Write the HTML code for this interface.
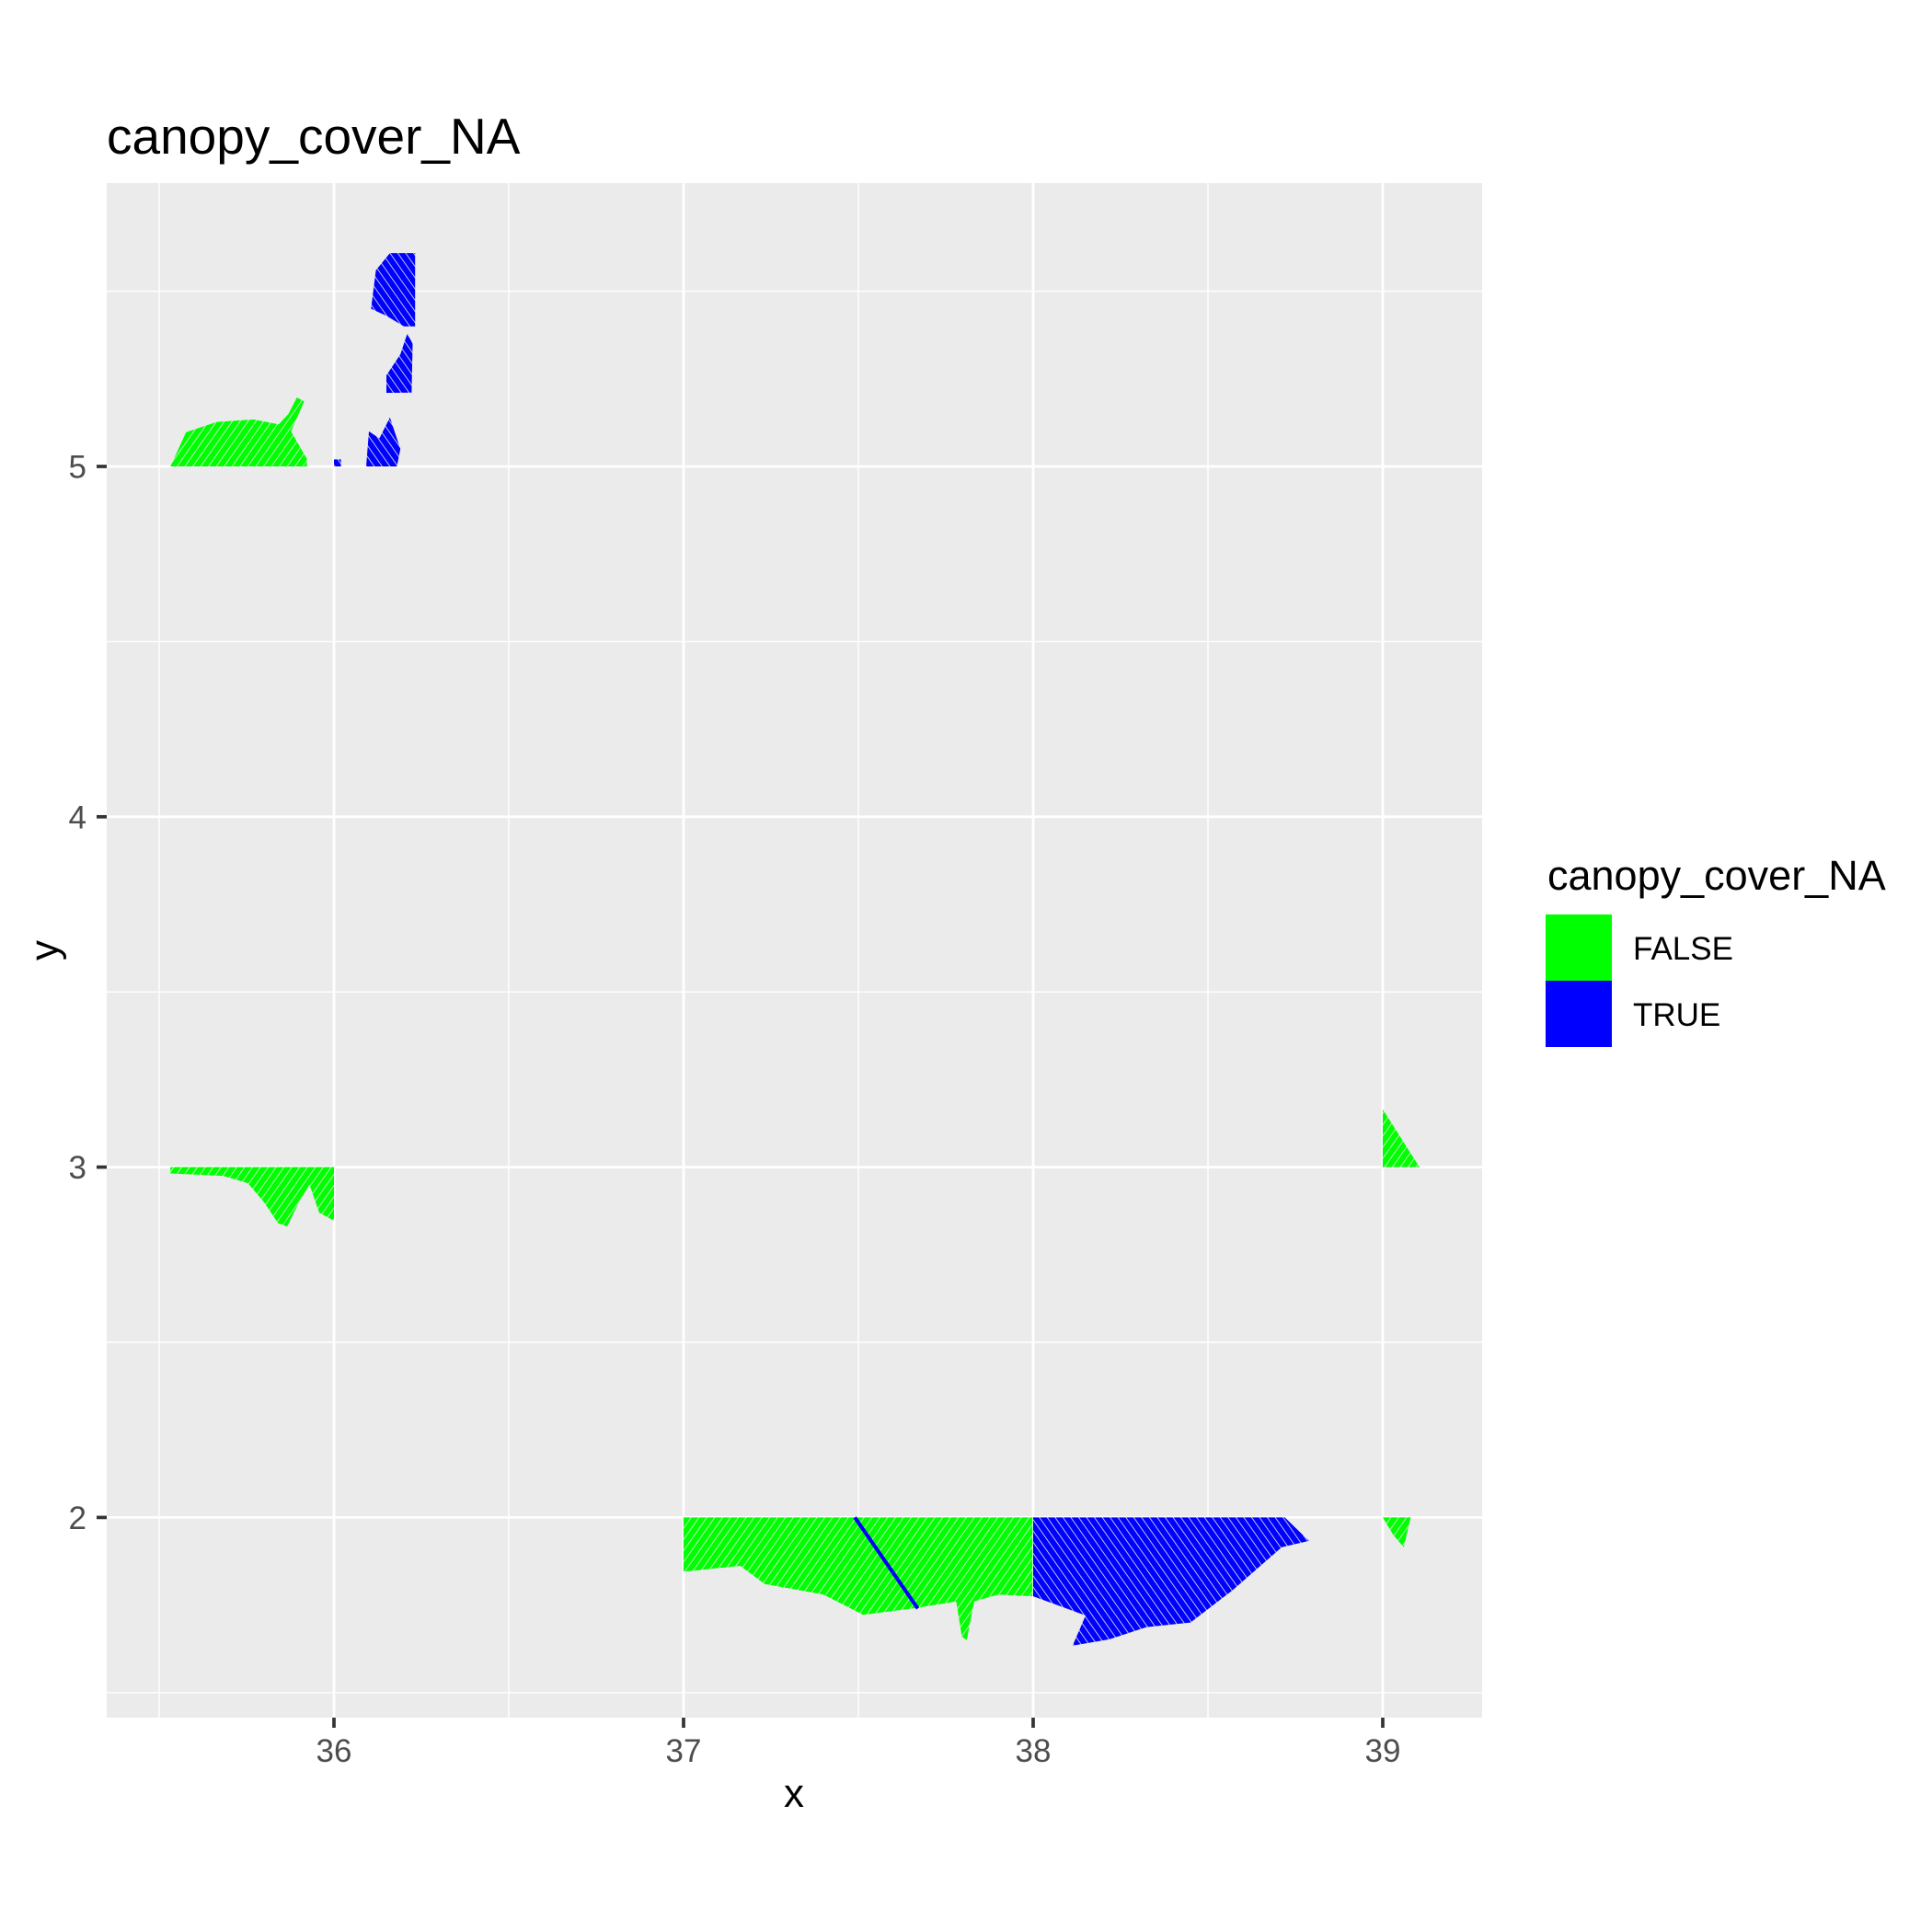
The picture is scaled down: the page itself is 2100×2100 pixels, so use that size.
<!DOCTYPE html>
<html><head><meta charset="utf-8"><style>
html,body{margin:0;padding:0;background:#fff;}
svg{display:block;font-family:"Liberation Sans",Arial,sans-serif;}
</style></head><body>
<svg id="chart" width="2100" height="2100" viewBox="0 0 2100 2100" xmlns="http://www.w3.org/2000/svg">
<defs>
<pattern id="hatch-green" patternUnits="userSpaceOnUse" width="7" height="7" patternTransform="rotate(35)">
<rect width="7" height="7" fill="#00ff00"/><line x1="0" y1="0" x2="0" y2="7" stroke="#ebebeb" stroke-width="1.6"/>
</pattern>
<pattern id="hatch-blue" patternUnits="userSpaceOnUse" width="7" height="7" patternTransform="rotate(-35)">
<rect width="7" height="7" fill="#0000ff"/><line x1="0" y1="0" x2="0" y2="7" stroke="#ebebeb" stroke-width="1.6"/>
</pattern>
</defs>
<rect x="0" y="0" width="2100" height="2100" fill="#fff"/>
<text x="116" y="167" font-size="55" fill="#000">canopy_cover_NA</text>
<rect x="116" y="199" width="1495" height="1668" fill="#ebebeb"/>
<g id="grid"></g>
<g id="regions"></g>
<g id="axes"></g>
<text x="863" y="1964" font-size="44" text-anchor="middle" fill="#000">x</text>
<text transform="translate(63,1033) rotate(-90)" font-size="44" text-anchor="middle" fill="#000">y</text>
<g>
<text x="1682" y="967" font-size="45" fill="#000">canopy_cover_NA</text>
<rect x="1680" y="994" width="72" height="72" fill="#00ff00"/>
<rect x="1680" y="1066" width="72" height="72" fill="#0000ff"/>
<text x="1775" y="1043" font-size="35" fill="#000">FALSE</text>
<text x="1775" y="1115" font-size="35" fill="#000">TRUE</text>
</g>
</svg>
<script>
const xTicks = [36, 37, 38, 39];
const yTicks = [2, 3, 4, 5];
const xMinor = [35.5, 36.5, 37.5, 38.5];
const yMinor = [1.5, 2.5, 3.5, 4.5, 5.5];
const regionNames = ["green-north-west","blue-north-1","blue-north-2","blue-north-3","blue-north-4","green-west","green-south","blue-south","green-east","green-east-small"];
const regionClass = ["FALSE","TRUE","TRUE","TRUE","TRUE","FALSE","FALSE","TRUE","FALSE","FALSE"];
const regionPoints = [
 [[35.532,5],[35.577,5.098],[35.665,5.127],[35.771,5.134],[35.842,5.12],[35.87,5.15],[35.894,5.197],[35.915,5.186],[35.877,5.1],[35.923,5.021],[35.923,5]],
 [[36.106,5.45],[36.12,5.56],[36.16,5.609],[36.232,5.609],[36.232,5.4],[36.2,5.4],[36.15,5.43]],
 [[36.15,5.21],[36.15,5.26],[36.19,5.32],[36.21,5.38],[36.225,5.35],[36.222,5.211]],
 [[36.092,5],[36.1,5.1],[36.13,5.08],[36.16,5.14],[36.19,5.05],[36.18,5]],
 [[36.0,5],[36.0,5.02],[36.02,5.02],[36.02,5]],
 [[35.532,3],[36,3],[36,2.847],[35.958,2.87],[35.93,2.95],[35.9,2.9],[35.866,2.83],[35.84,2.84],[35.8,2.9],[35.754,2.954],[35.683,2.975],[35.532,2.982]],
 [[37,2],[37.998,2],[37.998,1.775],[37.9,1.78],[37.831,1.76],[37.81,1.65],[37.796,1.66],[37.78,1.76],[37.655,1.74],[37.514,1.722],[37.4,1.78],[37.232,1.81],[37.162,1.862],[37,1.845]],
 [[38,2],[38.72,2],[38.789,1.933],[38.711,1.915],[38.57,1.792],[38.45,1.7],[38.324,1.687],[38.218,1.652],[38.113,1.634],[38.15,1.72],[38,1.775]],
 [[39,3],[39,3.165],[39.105,3.0]],
 [[39,2],[39.08,2],[39.06,1.915],[39.03,1.95]]
];
const stripeX = [37.49, 37.67];
const stripeY = [2.0, 1.74];

const NS = "http://www.w3.org/2000/svg";
function xs(v){ return 363 + (v - 36) * 380; }
function ys(v){ return 507 + (5 - v) * 380.8; }
const PL = 116, PR = 1611, PT = 199, PB = 1867;
function mk(tag, attrs, parent){ const e = document.createElementNS(NS, tag); for (const k in attrs) e.setAttribute(k, attrs[k]); parent.appendChild(e); return e; }
const grid = document.getElementById('grid');
const regions = document.getElementById('regions');
const axes = document.getElementById('axes');

xMinor.forEach(v => { const l = mk('line', {x1: xs(v), x2: xs(v), y1: PT, y2: PB, stroke: '#fff', 'stroke-width': 1.4}, grid);

 });
yMinor.forEach(v => { const l = mk('line', {x1: PL, x2: PR, y1: ys(v), y2: ys(v), stroke: '#fff', 'stroke-width': 1.4}, grid);

 });
xTicks.forEach(v => { const l = mk('line', {x1: xs(v), x2: xs(v), y1: PT, y2: PB, stroke: '#fff', 'stroke-width': 2.8}, grid);

 });
yTicks.forEach(v => { const l = mk('line', {x1: PL, x2: PR, y1: ys(v), y2: ys(v), stroke: '#fff', 'stroke-width': 2.8}, grid);

 });

regionPoints.forEach((pts, i) => {
  const p = mk('polygon', {points: pts.map(q => xs(q[0]).toFixed(1) + ',' + ys(q[1]).toFixed(1)).join(' '),
    fill: regionClass[i] === 'TRUE' ? 'url(#hatch-blue)' : 'url(#hatch-green)'}, regions);
  
  
});
const st = mk('line', {x1: xs(stripeX[0]), y1: ys(stripeY[0]), x2: xs(stripeX[1]), y2: ys(stripeY[1]), stroke: '#0000ff', 'stroke-width': 4}, regions);



xTicks.forEach(v => {
  const t = mk('line', {x1: xs(v), x2: xs(v), y1: PB, y2: PB + 11, stroke: '#333', 'stroke-width': 3.7}, axes);
  
  
  const tx = mk('text', {x: xs(v), y: 1915, 'font-size': 35, fill: '#4d4d4d', 'text-anchor': 'middle'}, axes);
  tx.textContent = String(v);
  
  
});
yTicks.forEach(v => {
  const t = mk('line', {x1: PL - 11, x2: PL, y1: ys(v), y2: ys(v), stroke: '#333', 'stroke-width': 3.7}, axes);
  
  
  const tx = mk('text', {x: 94, y: ys(v) + 12.5, 'font-size': 35, fill: '#4d4d4d', 'text-anchor': 'end'}, axes);
  tx.textContent = String(v);
  
  
});
</script>
</body></html>
